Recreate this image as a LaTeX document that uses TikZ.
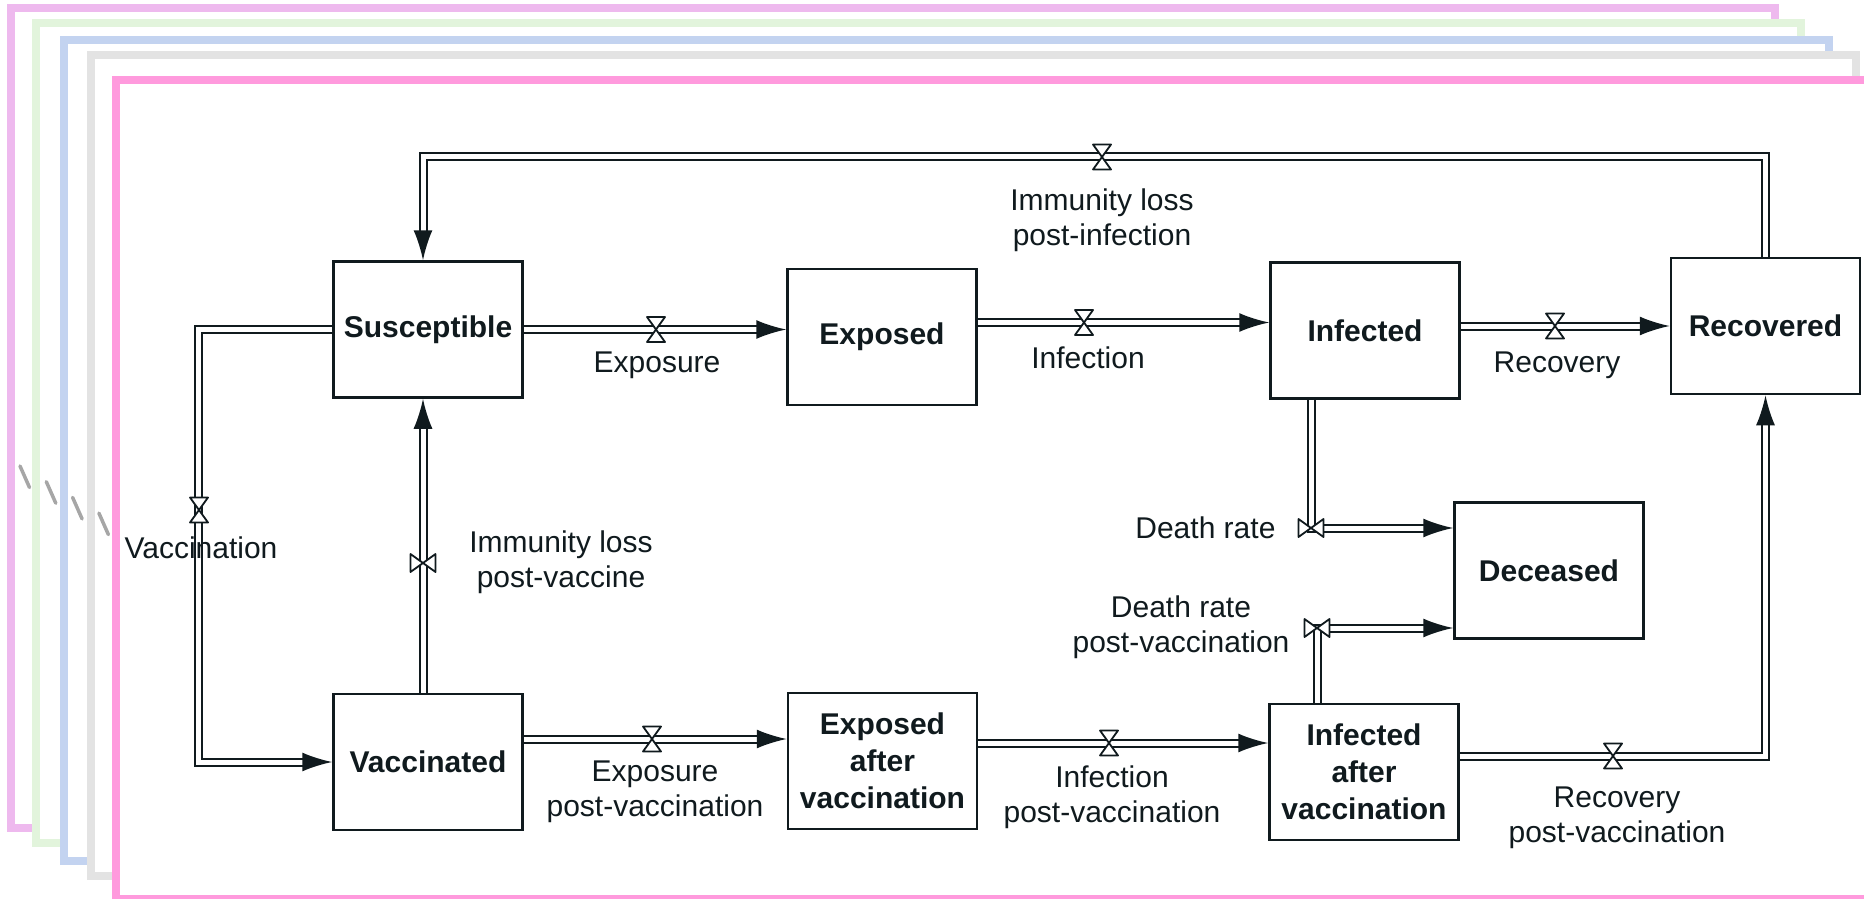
\documentclass[tikz,border=0pt]{standalone}
\usepackage{fontspec}
\setmainfont{Liberation Sans}
\definecolor{layer_lilac}{RGB}{238, 185, 238}
\definecolor{layer_green}{RGB}{226, 244, 220}
\definecolor{layer_blue}{RGB}{195, 211, 240}
\definecolor{layer_grey}{RGB}{227, 227, 227}
\definecolor{layer_pink}{RGB}{255, 154, 221}
\definecolor{ink}{RGB}{16, 26, 30}
\usetikzlibrary{arrows.meta}

\begin{document}
\begin{tikzpicture}[
    x=1pt, y=-1pt,
    every node/.style={font=\fontsize{30}{35}\selectfont, text=ink},
    stock/.style={draw=ink, fill=white, line width=2.5pt, minimum width=189pt,
                  minimum height=136pt, align=center,
                  font=\fontsize{30}{37}\selectfont\bfseries},
    flow/.style={draw=ink, line width=2pt, double=white, double distance=5pt,
                 -{Latex[length=30pt, width=19pt]}},
    rate/.style={align=center},
    layer/.style={fill=white, line width=8pt},
    layermark/.style={draw=black!35, line width=3.5pt, line cap=round},
    valve/.pic={\draw[ink, fill=white, line width=1.8pt, line join=round]
        (-9,-12.5) -- (9,-12.5) -- (0,0) -- cycle
        (-9,12.5) -- (9,12.5) -- (0,0) -- cycle;},
  ]
  \useasboundingbox (0,0) rectangle (1864,899);

  % stacked layers behind the model
  \draw[layer, draw=layer_lilac] (11,8)   rectangle (1775,828);
  \draw[layer, draw=layer_green] (36,23)  rectangle (1801,843);
  \draw[layer, draw=layer_blue]  (64,40)  rectangle (1829,861);
  \draw[layer, draw=layer_grey]  (91,55)  rectangle (1856,876);
  \draw[layer, draw=layer_pink]  (116,80) rectangle (1884,899);
  \foreach \i in {0,...,3}
    \draw[layermark] (20+26.3*\i, 466+15.7*\i) -- ++(9.5,21.5);

  % stocks
  \node[stock] (S)  at (428, 329.5)  {Susceptible};
  \node[stock] (E)  at (882, 337)    {Exposed};
  \node[stock] (I)  at (1365, 330.5) {Infected};
  \node[stock] (R)  at (1765.5, 326) {Recovered};
  \node[stock] (D)  at (1549, 570.5) {Deceased};
  \node[stock] (V)  at (428, 762)    {Vaccinated};
  \node[stock] (EV) at (882.5, 761)  {Exposed\\after\\vaccination};
  \node[stock] (IV) at (1364, 772)   {Infected\\after\\vaccination};

  % flows
  \draw[flow] (S.east) -- (S.east -| E.west);
  \draw[flow] ([yshift=8pt]I.west -| E.east) -- ([yshift=8pt]I.west);
  \draw[flow] (I.east |- R.west) -- (R.west);
  \draw[flow] (R.north) -- ([yshift=100pt]R.north) -| ([xshift=-5pt]S.north);
  \draw[flow] (S.west) -| ([xshift=-134pt]V.west) -- (V.west);
  \draw[flow] ([xshift=-5pt]V.north) -- ([xshift=-5pt]S.south);
  \draw[flow] ([yshift=23pt]V.east) -- ([yshift=23pt]V.east -| EV.west);
  \draw[flow] ([yshift=18pt]EV.east) -- ([yshift=18pt]EV.east -| IV.west);
  \draw[flow] ([yshift=16pt]IV.east) -| (R.south);
  \draw[flow] ([xshift=-54pt]I.south) |- ([yshift=42.5pt]D.west);
  \draw[flow] ([xshift=-47pt]IV.north) |- ([yshift=-57.5pt]D.west);

  % valves
  \pic at (656, 329.5) {valve};
  \pic at (1084, 322.5) {valve};
  \pic at (1555, 326) {valve};
  \pic at (1102, 157) {valve};
  \pic at (199, 510) {valve};
  \pic[rotate=90] at (423, 563) {valve};
  \pic at (652, 739) {valve};
  \pic at (1109, 743) {valve};
  \pic at (1613, 756) {valve};
  \pic[rotate=90] at (1311, 528) {valve};
  \pic[rotate=90] at (1317, 628) {valve};

  % rate labels
  \node (lExp) at (657, 365)  {Exposure};
  \node (lInf) at (1088, 358) {Infection};
  \node (lRec) at (1557, 365) {Recovery};
  \node[rate] (lImmI) at (1102, 220) {Immunity loss\\post-infection};
  \node (lVac) at (201, 548)  {Vaccination};
  \node[rate] (lImmV) at (561, 562)  {Immunity loss\\post-vaccine};
  \node[rate] (lExpV) at (655, 792)  {Exposure\\post-vaccination};
  \node[rate] (lInfV) at (1112, 797) {Infection\\post-vaccination};
  \node[rate] (lRecV) at (1617, 818) {Recovery\\post-vaccination};
  \node[anchor=east] (lDth) at (1279, 528) {Death rate};
  \node[rate] (lDthV) at (1181, 627) {Death rate\\post-vaccination};
\end{tikzpicture}
\end{document}
